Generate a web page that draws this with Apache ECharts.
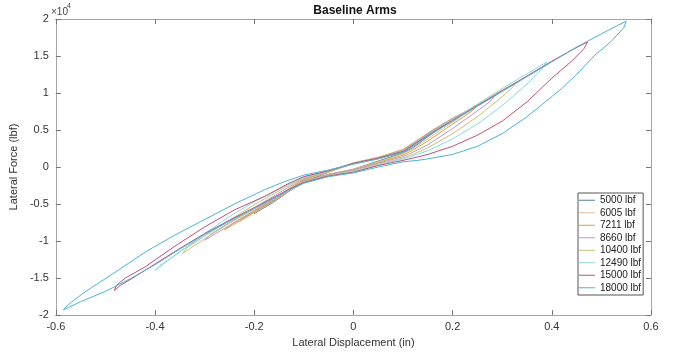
<!DOCTYPE html>
<html><head><meta charset="utf-8">
<script src="https://cdn.jsdelivr.net/npm/echarts@6/dist/echarts.min.js"></script>
<style>html,body{margin:0;padding:0;background:#fff}#c{width:674px;height:358px}</style>
</head><body><div id="c"></div>
<script>
// Tick values
const xTicks = [-0.6, -0.4, -0.2, 0, 0.2, 0.4, 0.6];
const yTicks = [-2, -1.5, -1, -0.5, 0, 0.5, 1, 1.5, 2]; // x10^4 lbf
const seriesNames = ['5000 lbf','6005 lbf','7211 lbf','8660 lbf','10400 lbf','12490 lbf','15000 lbf','18000 lbf'];
const seriesColors = ['#4f7f98','#e9b98c','#d8a33c','#b996d6','#c9c26a','#86dbe3','#c24f78','#4db3d4'];

// Loops: [displacement (in), force (x10^4 lbf)]
const loop5000 = [[0,0.05],[0.05,0.12],[0.1,0.22],[0.13,0.34],[0.16,0.48],[0.19,0.6],[0.18,0.55],[0.15,0.41],[0.12,0.26],[0.1,0.19],[0.05,0.08],[0,-0.03],[-0.05,-0.1],[-0.1,-0.21],[-0.13,-0.33],[-0.16,-0.47],[-0.2,-0.63],[-0.19,-0.57],[-0.15,-0.42],[-0.12,-0.28],[-0.1,-0.2],[-0.05,-0.07],[0,0.05]];
const loop6005 = [[0,0.06],[0.05,0.13],[0.1,0.24],[0.13,0.37],[0.16,0.5],[0.22,0.71],[0.21,0.65],[0.18,0.52],[0.15,0.38],[0.12,0.25],[0.1,0.18],[0.05,0.07],[0,-0.03],[-0.05,-0.1],[-0.1,-0.2],[-0.13,-0.33],[-0.16,-0.46],[-0.23,-0.74],[-0.22,-0.68],[-0.18,-0.53],[-0.15,-0.4],[-0.12,-0.26],[-0.1,-0.18],[-0.05,-0.07],[0,0.06]];
const loop7211 = [[0,0.05],[0.05,0.13],[0.1,0.23],[0.13,0.36],[0.16,0.5],[0.2,0.66],[0.25,0.83],[0.24,0.76],[0.2,0.58],[0.15,0.35],[0.12,0.23],[0.1,0.16],[0.05,0.06],[0,-0.04],[-0.05,-0.1],[-0.1,-0.19],[-0.13,-0.31],[-0.16,-0.45],[-0.2,-0.61],[-0.26,-0.85],[-0.25,-0.79],[-0.2,-0.59],[-0.15,-0.38],[-0.12,-0.25],[-0.1,-0.17],[-0.05,-0.06],[0,0.05]];
const loop8660 = [[0,0.05],[0.05,0.12],[0.1,0.22],[0.13,0.36],[0.16,0.49],[0.2,0.65],[0.25,0.84],[0.285,0.96],[0.275,0.88],[0.25,0.76],[0.2,0.52],[0.15,0.3],[0.12,0.2],[0.1,0.14],[0.05,0.05],[0,-0.04],[-0.05,-0.1],[-0.1,-0.19],[-0.13,-0.31],[-0.16,-0.44],[-0.2,-0.59],[-0.25,-0.79],[-0.3,-0.99],[-0.29,-0.92],[-0.25,-0.75],[-0.2,-0.55],[-0.15,-0.35],[-0.12,-0.23],[-0.1,-0.16],[-0.05,-0.06],[0,0.05]];
const loop10400 = [[0,0.04],[0.05,0.11],[0.1,0.2],[0.13,0.34],[0.16,0.48],[0.2,0.64],[0.25,0.84],[0.3,1.04],[0.33,1.15],[0.32,1.07],[0.3,0.95],[0.25,0.68],[0.2,0.45],[0.15,0.26],[0.12,0.17],[0.1,0.12],[0.05,0.04],[0,-0.05],[-0.05,-0.11],[-0.1,-0.2],[-0.13,-0.31],[-0.16,-0.42],[-0.2,-0.57],[-0.25,-0.76],[-0.3,-0.97],[-0.345,-1.17],[-0.335,-1.09],[-0.3,-0.93],[-0.25,-0.72],[-0.2,-0.51],[-0.15,-0.32],[-0.12,-0.21],[-0.1,-0.15],[-0.05,-0.06],[0,0.04]];
const loop12490 = [[0,0.05],[0.05,0.12],[0.1,0.22],[0.13,0.35],[0.16,0.48],[0.2,0.64],[0.25,0.85],[0.3,1.06],[0.35,1.26],[0.39,1.42],[0.38,1.33],[0.35,1.12],[0.3,0.83],[0.25,0.58],[0.2,0.38],[0.15,0.22],[0.12,0.15],[0.1,0.11],[0.05,0.03],[0,-0.06],[-0.05,-0.12],[-0.1,-0.21],[-0.13,-0.31],[-0.16,-0.41],[-0.2,-0.55],[-0.25,-0.73],[-0.3,-0.93],[-0.35,-1.14],[-0.4,-1.4],[-0.39,-1.33],[-0.35,-1.15],[-0.3,-0.9],[-0.25,-0.67],[-0.2,-0.47],[-0.15,-0.3],[-0.12,-0.2],[-0.1,-0.14],[-0.05,-0.05],[0,0.05]];
const loop15000 = [[0,0.05],[0.05,0.12],[0.1,0.21],[0.13,0.34],[0.16,0.47],[0.2,0.63],[0.25,0.83],[0.3,1.03],[0.35,1.23],[0.4,1.43],[0.44,1.58],[0.472,1.69],[0.465,1.6],[0.44,1.43],[0.4,1.2],[0.35,0.88],[0.3,0.62],[0.25,0.43],[0.2,0.28],[0.15,0.17],[0.12,0.12],[0.1,0.09],[0.05,0.02],[0,-0.07],[-0.05,-0.12],[-0.1,-0.21],[-0.13,-0.3],[-0.16,-0.41],[-0.2,-0.55],[-0.25,-0.72],[-0.3,-0.9],[-0.35,-1.1],[-0.4,-1.31],[-0.44,-1.48],[-0.47,-1.6],[-0.482,-1.67],[-0.478,-1.6],[-0.46,-1.5],[-0.42,-1.35],[-0.36,-1.07],[-0.3,-0.81],[-0.24,-0.58],[-0.18,-0.4],[-0.13,-0.22],[-0.1,-0.13],[-0.05,-0.05],[0,0.05]];
const loop18000 = [[0,0.04],[0.05,0.11],[0.1,0.2],[0.13,0.32],[0.16,0.46],[0.2,0.62],[0.25,0.82],[0.3,1.02],[0.35,1.22],[0.4,1.42],[0.45,1.62],[0.5,1.8],[0.535,1.92],[0.55,1.97],[0.545,1.88],[0.52,1.7],[0.485,1.5],[0.45,1.25],[0.42,1.06],[0.385,0.87],[0.35,0.68],[0.3,0.45],[0.25,0.28],[0.2,0.17],[0.15,0.11],[0.13,0.09],[0.1,0.07],[0.05,0.0],[0,-0.08],[-0.05,-0.13],[-0.1,-0.22],[-0.13,-0.31],[-0.16,-0.42],[-0.2,-0.56],[-0.25,-0.73],[-0.3,-0.91],[-0.35,-1.11],[-0.4,-1.32],[-0.45,-1.51],[-0.5,-1.68],[-0.55,-1.82],[-0.575,-1.9],[-0.585,-1.93],[-0.575,-1.86],[-0.544,-1.7],[-0.48,-1.42],[-0.42,-1.15],[-0.36,-0.92],[-0.3,-0.71],[-0.24,-0.5],[-0.18,-0.31],[-0.14,-0.2],[-0.1,-0.11],[-0.05,-0.04],[0,0.04]];
const loops = [loop5000, loop6005, loop7211, loop8660, loop10400, loop12490, loop15000, loop18000];

const FONT = 'Liberation Sans, Arial, sans-serif';
const axisCol = '#a6a6a6';
const labelCol = '#333333';
const fmt1 = v => String(+Number(v).toFixed(1));

const chart = echarts.init(document.getElementById('c'), null, {renderer: 'canvas'});
const baseX = {type:'value', min:xTicks[0], max:xTicks[xTicks.length-1], interval:0.2,
  axisLine:{show:true, onZero:false, lineStyle:{color:axisCol, width:1}},
  axisTick:{show:true, inside:true, length:5, lineStyle:{color:'#777'}},
  splitLine:{show:false}};
const baseY = {type:'value', min:yTicks[0], max:yTicks[yTicks.length-1], interval:0.5,
  axisLine:{show:true, onZero:false, lineStyle:{color:axisCol, width:1}},
  axisTick:{show:true, inside:true, length:5, lineStyle:{color:'#777'}},
  splitLine:{show:false}};

chart.setOption({
  animation:false,
  backgroundColor:'#ffffff',
  title:{text:'Baseline Arms', left:350, top:0, textAlign:'center',
    textStyle:{fontFamily:FONT, fontSize:12, fontWeight:'bold', color:'#111'}},
  grid:{left:49, right:23, top:19, bottom:43, containLabel:false},
  legend:{
    data:seriesNames.map((n,i)=>({name:n, icon:'rect', itemStyle:{color:seriesColors[i]}})),
    orient:'vertical', left:578, top:193,
    padding:[1,2,1,1], itemGap:0, itemWidth:16, itemHeight:1,
    backgroundColor:'#fff', borderColor:'#555', borderWidth:1,
    textStyle:{fontFamily:FONT, fontSize:10, color:'#222', lineHeight:12.5},
    selectedMode:false
  },
  xAxis:[
    Object.assign({}, baseX, {position:'bottom',
      name:'Lateral Displacement (in)', nameLocation:'middle', nameGap:22,
      nameTextStyle:{fontFamily:FONT, fontSize:11, color:labelCol},
      axisLabel:{fontFamily:FONT, fontSize:11, color:labelCol, margin:6, formatter:fmt1}}),
    Object.assign({}, baseX, {position:'top', axisLabel:{show:false}})
  ],
  yAxis:[
    Object.assign({}, baseY, {position:'left',
      name:'Lateral Force (lbf)', nameLocation:'middle', nameGap:30,
      nameTextStyle:{fontFamily:FONT, fontSize:11, color:labelCol},
      axisLabel:{fontFamily:FONT, fontSize:11, color:labelCol, margin:7, formatter:fmt1}}),
    Object.assign({}, baseY, {position:'right', axisLabel:{show:false}})
  ],
  graphic:[
    {type:'text', left:51, top:7, style:{text:'×10', fontFamily:FONT, fontSize:10, fill:'#444'}},
    {type:'text', left:67, top:3, style:{text:'4', fontFamily:FONT, fontSize:7, fill:'#444'}}
  ],
  series: loops.map((d,i)=>({
    name:seriesNames[i], type:'line', data:d, xAxisIndex:0, yAxisIndex:0,
    showSymbol:false, symbol:'none', smooth:false, clip:true,
    lineStyle:{color:seriesColors[i], width:1},
    itemStyle:{color:seriesColors[i]},
    emphasis:{disabled:true}
  }))
});
</script></body></html>
